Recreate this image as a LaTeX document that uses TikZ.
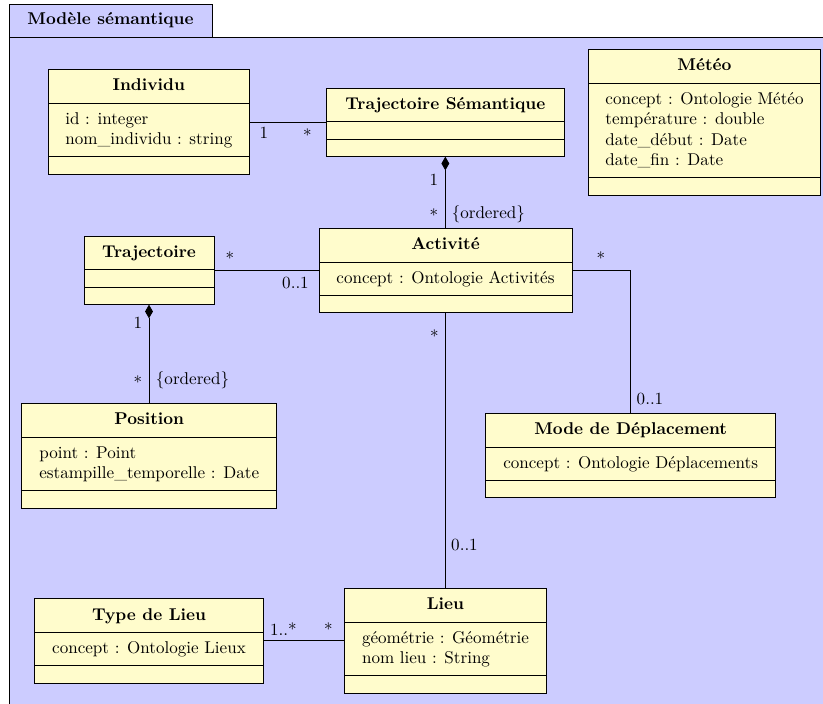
\documentclass[tikz,border=0pt]{standalone}
\usepackage{fontspec}
\usetikzlibrary{fit,arrows.meta}
\tikzset{
  pkgfill/.style={fill=blue!20, draw=black, line width=0.45pt},
  classbox/.style={draw=black, fill=yellow!20, line width=0.45pt, inner sep=0pt, rectangle},
  classline/.style={draw=black, line width=0.45pt},
  titletext/.style={font=\bfseries, anchor=base, inner sep=0pt},
  attrtext/.style={anchor=north, align=left, inner sep=0pt},
  mult/.style={anchor=base, inner sep=0pt},
  assoc/.style={draw=black, line width=0.45pt},
  compo/.style={{Diamond[length=8pt,width=4.6pt]}-}
}
\newcommand\umlclass[7]{%
  \pgfmathsetmacro\ucx{(#2+#4)/2}%
  \pgfmathsetmacro\udA{#3+33.7}%
  \pgfmathsetmacro\udB{\udA+#5}%
  \pgfmathsetmacro\uB{\udB+17.3}%
  \pgfmathsetmacro\utb{#3+21.3}%
  \pgfmathsetmacro\uat{\udA+9}%
  \node[classbox, fit={(#2,#3) (#4,\uB)}] (#1) {};
  \draw[classline] (#2,\udA) -- (#4,\udA);
  \draw[classline] (#2,\udB) -- (#4,\udB);
  \node[titletext] (#1-title) at (\ucx,\utb) {#6};
  \if\relax\detokenize{#7}\relax\else
    \node[attrtext] (#1-attr) at (\ucx,\uat) {#7};
  \fi
}
\begin{document}
\begin{tikzpicture}[x=0.5862pt, y=-0.5862pt]
\useasboundingbox (0,0) rectangle (823,703);
\clip (0,0) rectangle (823,703);
% package
\path[pkgfill] (9,37) rectangle (840,720);
\node[pkgfill, fit={(9,4) (212,37)}, inner sep=0pt] (pkgtab) {};
\node[titletext] (pkgname) at (110.5,24) {Modèle sémantique};

% classes
\umlclass{ind}{48.3}{69.3}{249.3}{53.8}{Individu}{id : integer\\nom\_individu : string}
\umlclass{ts}{326.7}{88}{564}{17.3}{Trajectoire Sémantique}{}
\umlclass{meteo}{588.3}{49.3}{820.7}{94.6}{Météo}{concept : Ontologie Météo\\température : double\\date\_début : Date\\date\_fin : Date}
\umlclass{traj}{84}{236}{214}{17.3}{Trajectoire}{}
\umlclass{act}{319}{228.3}{572}{33.4}{Activité}{concept : Ontologie Activités}
\umlclass{pos}{21.7}{403.3}{276.7}{53.8}{Position}{point : Point\\estampille\_temporelle : Date}
\umlclass{mdd}{485.7}{413.3}{775.7}{33.4}{Mode de Déplacement}{concept : Ontologie Déplacements}
\umlclass{tdl}{34.7}{598.7}{263.3}{33.4}{Type de Lieu}{concept : Ontologie Lieux}
\umlclass{lieu}{344.3}{588.3}{546.7}{53.8}{Lieu}{géométrie : Géométrie\\nom lieu : String}

% connectors
\draw[assoc] (ind.east |- 0,122) -- (ts.west |- 0,122);
\draw[assoc, compo] (ts.south) -- (ts.south |- act.north);
\draw[assoc] (traj.east |- 0,270.7) -- (act.west |- 0,270.7);
\draw[assoc] (act.east |- 0,270.7) -| (mdd.north);
\draw[assoc] (act.south) -- (act.south |- lieu.north);
\draw[assoc, compo] (traj.south) -- (traj.south |- pos.north);
\draw[assoc] (tdl.east |- 0,640.7) -- (lieu.west |- 0,640.7);

% multiplicities
\node[mult] (m1) at (264,138.3) {1};
\node[mult] (m2) at (307.5,141) {*};
\node[mult] (m3) at (434,185) {1};
\node[mult] (m4) at (434,221.5) {*};
\node[mult] (m5) at (488.3,218) {\{ordered\}};
\node[mult] (m6) at (230,264) {*};
\node[mult] (m7) at (295.5,288.3) {0..1};
\node[mult] (m8) at (601,264.4) {*};
\node[mult] (m9) at (650,404.3) {0..1};
\node[mult] (m10) at (434.3,342.6) {*};
\node[mult] (m11) at (464.5,550) {0..1};
\node[mult] (m12) at (138,328.3) {1};
\node[mult] (m13) at (138,388) {*};
\node[mult] (m14) at (192.5,384) {\{ordered\}};
\node[mult] (m15) at (283.3,635) {1..*};
\node[mult] (m16) at (328.3,635.9) {*};
\end{tikzpicture}
\end{document}
